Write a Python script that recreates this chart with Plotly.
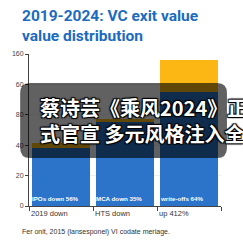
import plotly.graph_objects as go

# ---- data ----
categories = ["2019 down", "HTS down", "up 412%"]
blue_values = [38, 55, 75]
gold_values = [3.5, 2.5, 21]
bar_labels = ["IPOs down 56%", "MCA down 35%", "write-offs 64%"]
ytick_vals = [0, 20, 40, 60, 80, 100]
ytick_text = ["0", "20", "40", "80", "60", "160"]
title_text = "2019-2024: VC exit value<br>value distribution"
footer_text = "Fer onit, 2015 (lansesponel) VI codate meriage."
overlay_lines = ["蔡诗芸《乘风2024》正", "式官宣 多元风格注入全"]

BLUE = "#2b74c9"
GOLD = "#fdb714"
TITLE_BLUE = "#1c6bbf"

fig = go.Figure()
fig.add_trace(go.Bar(x=categories, y=blue_values, marker=dict(color=BLUE, line=dict(width=0)),
                     hoverinfo="skip"))
fig.add_trace(go.Bar(x=categories, y=gold_values, marker=dict(color=GOLD, line=dict(width=0)),
                     hoverinfo="skip"))

annotations = []
# title
annotations.append(dict(x=-0.045, y=1.325, xref="paper", yref="paper", text=title_text,
                        showarrow=False, xanchor="left", yanchor="top", align="left",
                        font=dict(family="Roboto", size=15.5, color=TITLE_BLUE, weight="bold")))
# bar labels (inside bars, bottom-left)
for c, lab in zip(categories, bar_labels):
    annotations.append(dict(x=c, y=0, xref="x", yref="y", text=lab, showarrow=False,
                            xanchor="left", yanchor="bottom", xshift=-31, yshift=2,
                            font=dict(family="Arial", size=6.2, color="white", weight="bold")))
# category labels (left aligned under bars)
for c in categories:
    annotations.append(dict(x=c, y=0, xref="x", yref="paper", text=c, showarrow=False,
                            xanchor="left", yanchor="top", xshift=-32, yshift=-1,
                            font=dict(family="Arial", size=7.5, color="#333333")))
# footer
annotations.append(dict(x=-0.046, y=-0.171, xref="paper", yref="paper", text=footer_text,
                        showarrow=False, xanchor="left", yanchor="middle",
                        font=dict(family="Arial", size=7, color="#333333")))
# overlay caption
annotations.append(dict(x=0.048, y=0.56, xref="paper", yref="paper",
                        text="<br>".join(overlay_lines), align="left",
                        showarrow=False, xanchor="left", yanchor="middle",
                        font=dict(family="Noto Sans CJK SC", size=20, color="white",
                                  weight="bold",
                                  shadow="1px 1px 1px #000, -1px -1px 1px #000, 1px -1px 1px #000, -1px 1px 1px #000")))

# rounded overlay rectangle (paper coordinates)
x0, x1 = -0.046, 1.031
y0, y1 = 0.316, 0.809
rx, ry = 0.051, 0.066
path = (f"M {x0+rx},{y1} L {x1-rx},{y1} Q {x1},{y1} {x1},{y1-ry} "
        f"L {x1},{y0+ry} Q {x1},{y0} {x1-rx},{y0} L {x0+rx},{y0} "
        f"Q {x0},{y0} {x0},{y0+ry} L {x0},{y1-ry} Q {x0},{y1} {x0+rx},{y1} Z")

fig.update_layout(
    width=243, height=243,
    margin=dict(l=25, r=22, t=54, b=37),
    paper_bgcolor="white", plot_bgcolor="white",
    barmode="stack", bargap=0.08, showlegend=False,
    xaxis=dict(type="category", showline=True, linecolor="#444", linewidth=1,
               ticks="outside", tickson="boundaries", ticklen=4, tickcolor="#444",
               showticklabels=False, showgrid=False, fixedrange=True),
    yaxis=dict(range=[0, 100], tickvals=ytick_vals, ticktext=ytick_text,
               showline=True, linecolor="#444", linewidth=1, ticks="outside",
               ticklen=3, tickcolor="#444", showgrid=True, gridcolor="#eeeeee",
               zeroline=False, tickfont=dict(family="Arial", size=7, color="#444"),
               fixedrange=True),
    shapes=[dict(type="path", path=path, xref="paper", yref="paper",
                 fillcolor="rgba(0,0,0,0.62)", line=dict(width=0), layer="above")],
    annotations=annotations,
)

fig.write_html("out.html", config={"displayModeBar": False})
